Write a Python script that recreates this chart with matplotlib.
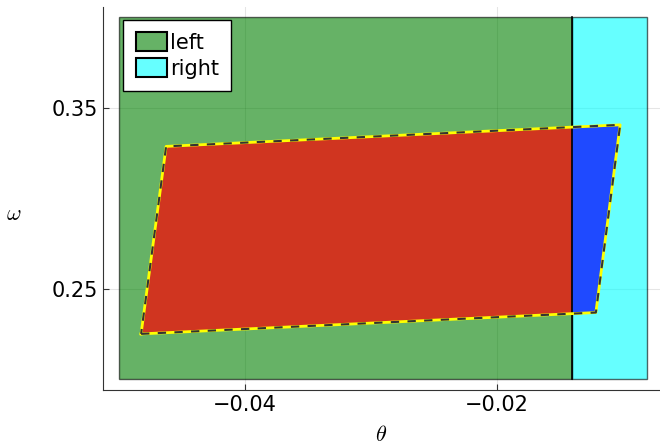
import matplotlib.pyplot as plt
from matplotlib.patches import Polygon, Rectangle

# region boxes (theta_min, theta_max, omega_min, omega_max)
left_box = [-0.05, -0.014, 0.2, 0.4]
right_box = [-0.014, -0.008, 0.2, 0.4]

# reachable set quadrilateral (theta, omega)
set_theta = [-0.04827, -0.0121, -0.01017, -0.04628]
set_omega = [0.2251, 0.2369, 0.3406, 0.3287]

x_ticks = [-0.04, -0.02]
y_ticks = [0.25, 0.35]

plt.rcParams["mathtext.fontset"] = "cm"

fig = plt.figure(figsize=(6.6, 4.44), dpi=100)
ax = fig.add_axes([103 / 660, 54 / 444, 557 / 660, 383 / 444])

boxes = []
for box, col, lab in [(left_box, "green", "left"), (right_box, "cyan", "right")]:
    r = Rectangle((box[0], box[2]), box[1] - box[0], box[3] - box[2],
                  facecolor=col, alpha=0.6, edgecolor="black", linewidth=1.0, label=lab, zorder=1)
    ax.add_patch(r)
    boxes.append(r)

pts = list(zip(set_theta, set_omega))
for box, col in [(left_box, "#d03520"), (right_box, "#1f4aff")]:
    poly = Polygon(pts, closed=True, facecolor=col, edgecolor="none", zorder=2)
    ax.add_patch(poly)
    clip = Rectangle((box[0], box[2]), box[1] - box[0], box[3] - box[2], transform=ax.transData)
    poly.set_clip_path(clip)

# boundary line between regions
ax.plot([left_box[1], left_box[1]], [left_box[2], left_box[3]], color="black", lw=1.2, zorder=3)

xs = set_theta + [set_theta[0]]
ys = set_omega + [set_omega[0]]
ax.plot(xs, ys, color="yellow", lw=2.0, zorder=4)
ax.plot(xs, ys, color="#333333", lw=1.5, linestyle=(0, (4, 4)), zorder=5)

ax.set_xlim(-0.0513, -0.0070)
ax.set_ylim(0.1941, 0.4057)
ax.set_xticks(x_ticks)
ax.set_yticks(y_ticks)
ax.set_xticklabels(["\u22120.04", "\u22120.02"])
ax.set_yticklabels(["0.25", "0.35"])
ax.tick_params(direction="in", length=4, labelsize=15, color="#333333")
ax.grid(True, color="black", alpha=0.1, linewidth=0.8)
ax.set_axisbelow(True)
for s in ["top", "right"]:
    ax.spines[s].set_visible(False)
for s in ["left", "bottom"]:
    ax.spines[s].set_color("#333333")
ax.set_xlabel(r"$\theta$", fontsize=16, labelpad=7)
ax.set_ylabel(r"$\omega$", fontsize=16, rotation=0, ha="center", va="center")
ax.yaxis.set_label_coords(-0.16, 0.46)

leg = ax.legend(handles=boxes, loc="upper left", bbox_to_anchor=(20 / 557, (383 - 13) / 383),
                fontsize=15, fancybox=False, framealpha=1, edgecolor="black",
                borderpad=0.6, handlelength=1.5, handleheight=1.0, handletextpad=0.15,
                labelspacing=0.25, borderaxespad=0.0)
leg.get_frame().set_linewidth(1.0)
for h in leg.legend_handles:
    h.set_alpha(None)
    h.set_edgecolor("black")
    h.set_linewidth(1.5)
leg.legend_handles[0].set_facecolor("#66b266")
leg.legend_handles[1].set_facecolor("#66ffff")

fig.savefig("out.png", dpi=100)
